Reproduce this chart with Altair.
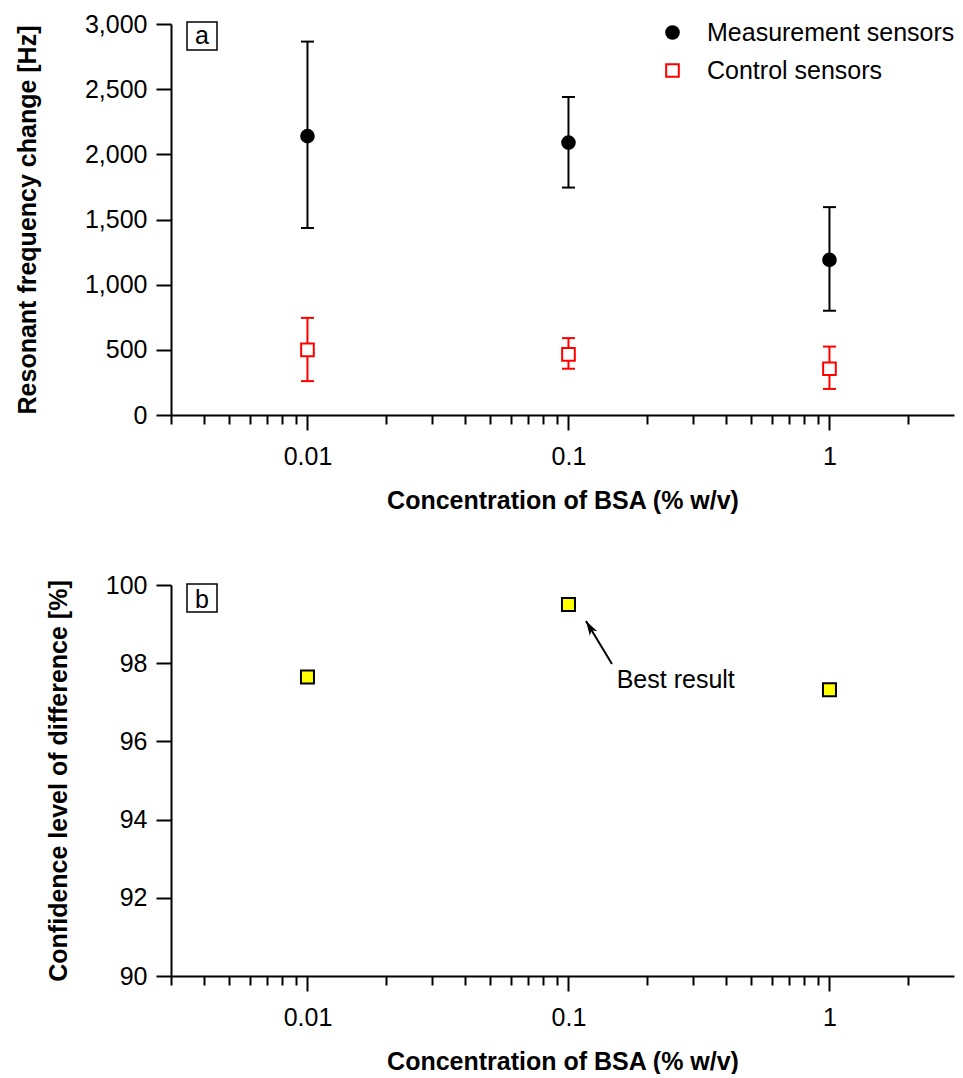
import altair as alt
import pandas as pd

# ---------------- data ----------------
conc = [0.01, 0.1, 1.0]
series_names = ["Measurement sensors", "Control sensors"]
meas_mean = [2140, 2090, 1190]
meas_lo = [1435, 1745, 800]
meas_hi = [2865, 2440, 1595]
ctrl_mean = [500, 465, 355]
ctrl_lo = [260, 355, 200]
ctrl_hi = [745, 590, 525]
confidence = [97.65, 99.5, 97.32]

freq_ticks = [0, 500, 1000, 1500, 2000, 2500, 3000]
conf_ticks = [90, 92, 94, 96, 98, 100]
major_ticks = [0.01, 0.1, 1]
minor_ticks = [0.003, 0.004, 0.005, 0.006, 0.007, 0.008, 0.009,
               0.02, 0.03, 0.04, 0.05, 0.06, 0.07, 0.08, 0.09,
               0.2, 0.3, 0.4, 0.5, 0.6, 0.7, 0.8, 0.9, 2]
panel_labels = ["a", "b"]
note_text = ["Best result"]
note_x = [0.153]
note_y = [97.57]
arrow_x = [0.1468, 0.1167]   # tail, head
arrow_y = [97.98, 99.08]

x_title = "Concentration of BSA (% w/v)"
y_title_top = "Resonant frequency change [Hz]"
y_title_bot = "Confidence level of difference [%]"

# ---------------- tables ----------------
meas_df = pd.DataFrame({"conc": conc, "mean": meas_mean, "lo": meas_lo, "hi": meas_hi,
                        "series": series_names[0]})
ctrl_df = pd.DataFrame({"conc": conc, "mean": ctrl_mean, "lo": ctrl_lo, "hi": ctrl_hi,
                        "series": series_names[1]})
pts_df = pd.concat([meas_df, ctrl_df], ignore_index=True)
conf_df = pd.DataFrame({"conc": conc, "conf": confidence})
note_df = pd.DataFrame({"x": note_x, "y": note_y, "text": note_text})
arrow_df = pd.DataFrame({"x": [arrow_x[0]], "y": [arrow_y[0]],
                         "x2": [arrow_x[1]], "y2": [arrow_y[1]]})
head_df = pd.DataFrame({"x": [arrow_x[1]], "y": [arrow_y[1]]})

FONT = "Liberation Sans, Arial, sans-serif"
W, H = 783, 391
FS = 25

X_SCALE = alt.Scale(type="log", domain=[0.003, 3.0], nice=False)


def x_major():
    return alt.Axis(orient="bottom", values=major_ticks, labelExpr="toString(datum.value)",
                    tickSize=15, tickWidth=2, domainWidth=2, labelFontSize=FS,
                    labelPadding=14, title=x_title, titleFontSize=FS,
                    titleFontWeight="bold", titlePadding=19, grid=False,
                    labelOverlap=False)


def x_minor():
    return alt.Axis(orient="bottom", values=minor_ticks, tickSize=9, tickWidth=2,
                    labels=False, domain=False, title=None, grid=False)


def y_axis(vals, title, expr, tpad):
    return alt.Axis(values=vals, labelExpr=expr, tickSize=15, tickWidth=2, domainWidth=2,
                    labelFontSize=FS, labelPadding=9, title=title, titleFontSize=FS,
                    titleFontWeight="bold", titlePadding=tpad, grid=False)


Y_TOP = y_axis(freq_ticks, y_title_top, "format(datum.value, ',')", 44)
Y_BOT = y_axis(conf_ticks, y_title_bot, "format(datum.value, 'd')", 34)
YS_TOP = alt.Scale(domain=[0, 3000], nice=False, zero=False)
YS_BOT = alt.Scale(domain=[90, 100], nice=False, zero=False)


def ytop(f):
    return alt.Y(f, type="quantitative", scale=YS_TOP, axis=Y_TOP)


def ybot(f):
    return alt.Y(f, type="quantitative", scale=YS_BOT, axis=Y_BOT)


def xq(f="conc", axis=None):
    return alt.X(f, type="quantitative", scale=X_SCALE, axis=axis)


def err_layers(df, col, minor_axis=False):
    rule = alt.Chart(df).mark_rule(color=col, strokeWidth=2).encode(
        x=xq(axis=x_minor() if minor_axis else None), y=ytop("lo"), y2="hi:Q")
    cap_hi = alt.Chart(df).mark_tick(orient="horizontal", size=13, thickness=2,
                                     color=col, opacity=1).encode(x=xq(), y=ytop("hi"))
    cap_lo = alt.Chart(df).mark_tick(orient="horizontal", size=13, thickness=2,
                                     color=col, opacity=1).encode(x=xq(), y=ytop("lo"))
    return [rule, cap_hi, cap_lo]


LEG = alt.Legend(title=None)
points_top = alt.Chart(pts_df).mark_point(size=160, strokeWidth=2, opacity=1).encode(
    x=xq(axis=x_major()),
    y=ytop("mean"),
    stroke=alt.Stroke("series:N", scale=alt.Scale(domain=series_names, range=["black", "red"]),
                      legend=LEG),
    fill=alt.Fill("series:N", scale=alt.Scale(domain=series_names, range=["black", "white"]),
                  legend=LEG),
    shape=alt.Shape("series:N", scale=alt.Scale(domain=series_names, range=["circle", "square"]),
                    legend=LEG),
)


def panel_tag(label, y_top, y_base):
    d = pd.DataFrame({"label": [label]})
    box = alt.Chart(d).mark_rect(fill="white", stroke="black", strokeWidth=1.5).encode(
        x=alt.value(16), x2=alt.value(46), y=alt.value(y_top), y2=alt.value(y_top + 28))
    txt = alt.Chart(d).mark_text(font=FONT, fontSize=FS, baseline="alphabetic",
                                 align="center", color="black").encode(
        x=alt.value(31), y=alt.value(y_base), text="label:N")
    return [box, txt]


top = alt.layer(
    *err_layers(meas_df, "black"),
    *err_layers(ctrl_df, "red", minor_axis=True),
    points_top,
    *panel_tag(panel_labels[0], -2, 20),
).resolve_axis(x="independent").properties(width=W, height=H)

# ---------------- bottom panel ----------------
points_bot = alt.Chart(conf_df).mark_point(shape="square", filled=True, fill="#ffff00",
                                           stroke="black", strokeWidth=2, size=169,
                                           opacity=1).encode(
    x=xq(axis=x_major()), y=ybot("conf"))
arrow_line = alt.Chart(arrow_df).mark_rule(color="black", strokeWidth=2).encode(
    x=xq("x", axis=x_minor()), y=ybot("y"), x2="x2:Q", y2="y2:Q")
arrow_head = alt.Chart(head_df).mark_point(
    shape="M0,0L-0.5,1.7L0,1.25L0.5,1.7Z", filled=True, color="black", size=300,
    angle=329, opacity=1).encode(x=xq("x"), y=ybot("y"))
note = alt.Chart(note_df).mark_text(font=FONT, fontSize=FS, align="left", baseline="middle",
                                    color="black").encode(
    x=xq("x"), y=ybot("y"), text="text:N")

bottom = alt.layer(
    arrow_line, arrow_head, note, points_bot,
    *panel_tag(panel_labels[1], -1, 23),
).resolve_axis(x="independent").properties(width=W, height=H)

chart = alt.vconcat(top, bottom, spacing=60).properties(
    padding={"left": 7, "top": 4, "right": 0, "bottom": 0}
).configure_view(stroke=None).configure_axis(
    labelFont=FONT, titleFont=FONT, domainColor="black", tickColor="black",
    labelColor="black", titleColor="black"
).configure_legend(
    orient="none", legendX=489, legendY=-4, labelFont=FONT, labelFontSize=FS,
    labelColor="black", symbolSize=160, symbolStrokeWidth=2, rowPadding=12,
    labelOffset=22, padding=0, labelLimit=0
)

chart.save("out.html", embed_options={"renderer": "svg", "actions": False})
